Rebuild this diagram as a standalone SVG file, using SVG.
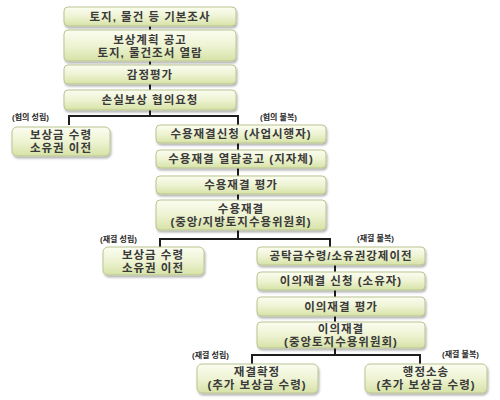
<svg xmlns="http://www.w3.org/2000/svg" width="500" height="400" viewBox="0 0 500 400">
<defs>
<linearGradient id="g" x1="0" y1="0" x2="0" y2="1">
<stop offset="0" stop-color="#fbfdf0"/>
<stop offset="0.5" stop-color="#eef3d3"/>
<stop offset="1" stop-color="#d6e2a6"/>
</linearGradient>
<filter id="sh" x="-10%" y="-10%" width="120%" height="140%">
<feGaussianBlur in="SourceAlpha" stdDeviation="1"/>
<feOffset dx="1" dy="1.5"/>
<feComponentTransfer><feFuncA type="linear" slope="0.3"/></feComponentTransfer>
<feMerge><feMergeNode/><feMergeNode in="SourceGraphic"/></feMerge>
</filter>
</defs>
<style>
.b{fill:url(#g);stroke:#b9c592;stroke-width:1;filter:url(#sh)}
.t{font-family:"Liberation Sans","Noto Sans CJK KR",sans-serif;font-size:11.5px;font-weight:bold;fill:#3a3a3a;text-anchor:middle;letter-spacing:1px}
.l{font-family:"Liberation Sans","Noto Sans CJK KR",sans-serif;font-size:8px;font-weight:bold;fill:#2a2a2a}
.c{fill:none;stroke:#1e1e1e;stroke-width:2}
</style>
<rect width="500" height="400" fill="#fff"/>
<g id="connectors">
<path class="c" d="M150 26V30M150 61V65M150 84V90"/>
<path class="c" d="M150 110V116M69 125V116H238V125"/>
<path class="c" d="M238 143V150M238 168V176M238 194V200"/>
<path class="c" d="M238 230V239M160 247V239H330V247"/>
<path class="c" d="M335 265V272M335 290V297M335 316V322"/>
<path class="c" d="M335 348V355M252 364V355H420V364"/>
</g>
<g id="labels">
<text class="l" x="12" y="120">(협의 성립)</text>
<text class="l" x="260" y="120">(협의 불복)</text>
<text class="l" x="100" y="242">(재결 성립)</text>
<text class="l" x="357" y="241">(재결 불복)</text>
<text class="l" x="192" y="358">(재결 성립)</text>
<text class="l" x="442" y="357">(재결 불복)</text>
</g>
<g id="n1"><rect class="b" x="64" y="7" width="172" height="19" rx="4"/><text class="t" x="150" y="21">토지, 물건 등 기본조사</text></g>
<g id="n2"><rect class="b" x="64" y="30" width="172" height="31" rx="4"/><text class="t" x="150" y="43.5">보상계획 공고<tspan x="150" dy="13.5">토지, 물건조서 열람</tspan></text></g>
<g id="n3"><rect class="b" x="64" y="65" width="172" height="19" rx="4"/><text class="t" x="150" y="79">감정평가</text></g>
<g id="n4"><rect class="b" x="64" y="90" width="172" height="20" rx="4"/><text class="t" x="150" y="104">손실보상 협의요청</text></g>
<g id="n5"><rect class="b" x="12" y="127" width="98" height="29" rx="5"/><text class="t" x="61" y="138.5">보상금 수령<tspan x="61" dy="13.5">소유권 이전</tspan></text></g>
<g id="n6"><rect class="b" x="156" y="125" width="170" height="18" rx="4"/><text class="t" x="241" y="138">수용재결신청 (사업시행자)</text></g>
<g id="n7"><rect class="b" x="156" y="150" width="170" height="18" rx="4"/><text class="t" x="241" y="163">수용재결 열람공고 (지자체)</text></g>
<g id="n8"><rect class="b" x="156" y="176" width="170" height="18" rx="4"/><text class="t" x="241" y="189">수용재결 평가</text></g>
<g id="n9"><rect class="b" x="156" y="200" width="170" height="30" rx="4"/><text class="t" x="241" y="212.5">수용재결<tspan x="241" dy="13.5">(중앙/지방토지수용위원회)</tspan></text></g>
<g id="n10"><rect class="b" x="103" y="247" width="101" height="28" rx="5"/><text class="t" x="153" y="258.5">보상금 수령<tspan x="153" dy="13.5">소유권 이전</tspan></text></g>
<g id="n11"><rect class="b" x="257" y="247" width="168" height="18" rx="4"/><text class="t" x="341" y="260">공탁금수령/소유권강제이전</text></g>
<g id="n12"><rect class="b" x="257" y="272" width="168" height="18" rx="4"/><text class="t" x="341" y="285">이의재결 신청 (소유자)</text></g>
<g id="n13"><rect class="b" x="257" y="297" width="168" height="19" rx="4"/><text class="t" x="341" y="311">이의재결 평가</text></g>
<g id="n14"><rect class="b" x="257" y="322" width="168" height="26" rx="4"/><text class="t" x="341" y="332.5">이의재결<tspan x="341" dy="13">(중앙토지수용위원회)</tspan></text></g>
<g id="n15"><rect class="b" x="197" y="364" width="121" height="29" rx="5"/><text class="t" x="257" y="375.5">재결확정<tspan x="257" dy="13.5">(추가 보상금 수령)</tspan></text></g>
<g id="n16"><rect class="b" x="365" y="364" width="122" height="29" rx="5"/><text class="t" x="426" y="375.5">행정소송<tspan x="426" dy="13.5">(추가 보상금 수령)</tspan></text></g>
</svg>
